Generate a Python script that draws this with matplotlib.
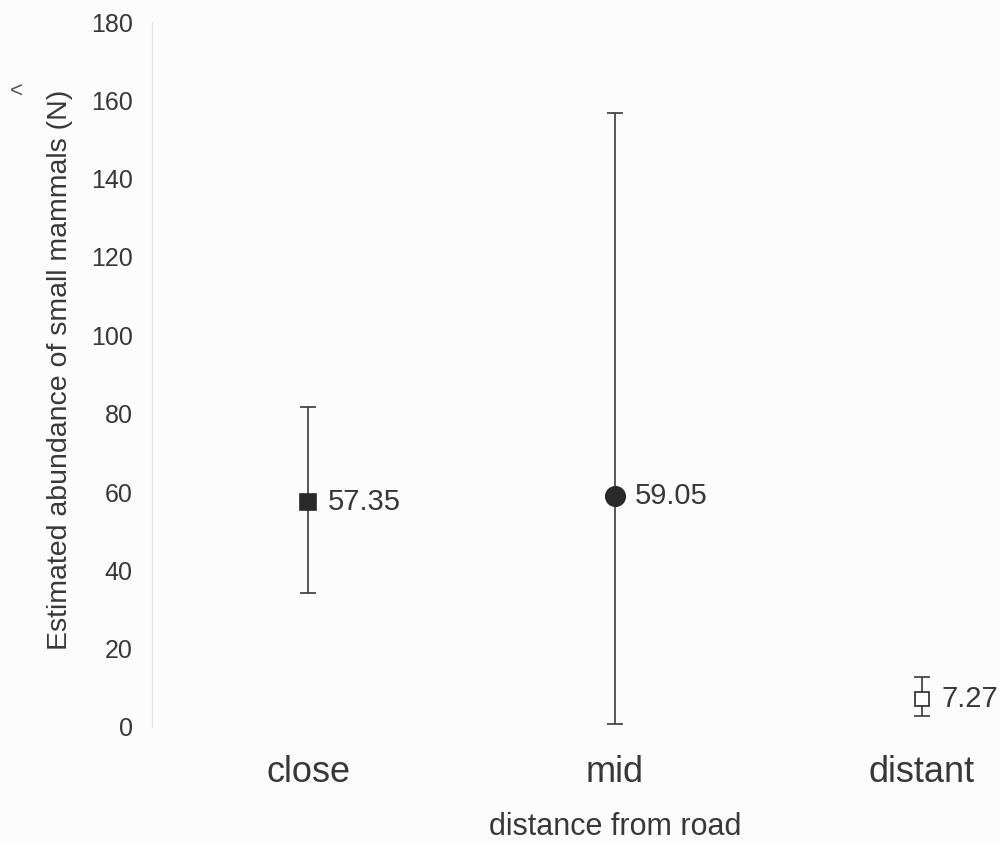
import matplotlib
matplotlib.use("Agg")
import matplotlib.pyplot as plt

categories = ["close", "mid", "distant"]
means = [57.35, 59.05, 7.27]
upper = [81.8, 156.8, 12.8]
lower = [34.2, 0.8, 2.8]
markers = ["s", "o", "s"]
fills = ["#2a2a2a", "#2a2a2a", "white"]
value_labels = ["57.35", "59.05", "7.27"]

TEXT = "#383838"
plt.rcParams["font.family"] = ["Liberation Sans", "DejaVu Sans"]

fig = plt.figure(figsize=(9.99, 8.43), dpi=100)
fig.patch.set_facecolor("#fcfcfc")
ax = fig.add_axes([152 / 999, 1 - 727 / 843, 1 - 152 / 999, (727 - 22) / 843])
ax.set_facecolor("#fcfcfc")

msize = {"s": 12, "o": 14}
xs = list(range(len(categories)))
for x, m, hi, lo, mk, fc, lab in zip(xs, means, upper, lower, markers, fills, value_labels):
    ax.errorbar([x], [m], yerr=[[m - lo], [hi - m]], fmt="none", ecolor="#3a3a3a",
                elinewidth=1.2, capsize=6, capthick=1.2, zorder=2)
    ax.plot([x], [m], marker=mk, markersize=msize[mk] if fc != "white" else 10.5,
            markerfacecolor=fc, markeredgecolor="#2a2a2a", markeredgewidth=1.2,
            linestyle="none", zorder=3)
    ax.annotate(lab, (x, m), xytext=(14, 0), textcoords="offset points",
                va="center", ha="left", fontsize=21, color=TEXT)

ax.set_xlim(-156 / 307, (999 - 308) / 307)
ax.set_ylim(0, 180)
ax.set_yticks(range(0, 181, 20))
ax.set_xticks(xs)
ax.set_xticklabels(categories, fontsize=26, color=TEXT)
ax.tick_params(axis="y", length=0, pad=14, labelsize=18, labelcolor=TEXT)
ax.tick_params(axis="x", length=0, pad=20)
for s in ["top", "right", "bottom"]:
    ax.spines[s].set_visible(False)
ax.spines["left"].set_color("#e4e4e4")
ax.spines["left"].set_linewidth(0.8)

ax.set_xlabel("distance from road", fontsize=22, color=TEXT)
ax.xaxis.set_label_coords((615 - 152) / 847, (727 - 812) / 705)
ax.set_ylabel("Estimated abundance of small mammals (N)", fontsize=20.5, color=TEXT)
ax.yaxis.set_label_coords((73 - 152) / 847, 0.506)
fig.text(10 / 999, 1 - 91 / 843, "<", fontsize=16, color="#555555", ha="left", va="center")

fig.savefig("out.png", facecolor=fig.get_facecolor())
